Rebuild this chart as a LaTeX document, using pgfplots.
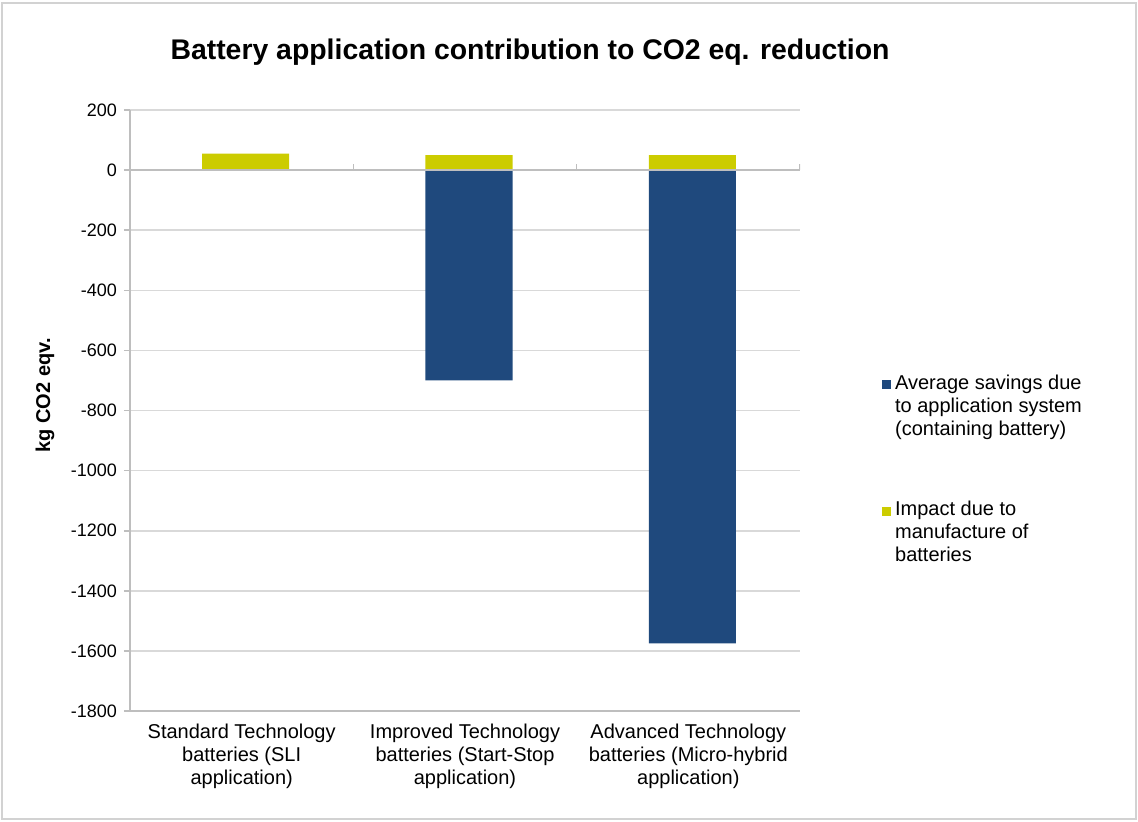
\documentclass[border=0pt]{standalone}
\usepackage{pgfplots}
\pgfplotsset{compat=1.18}
\usepackage{fontspec}
\setmainfont{Liberation Sans}
\definecolor{barblue}{RGB}{31,73,125}
\definecolor{baryellow}{RGB}{204,204,0}
\definecolor{gridgray}{RGB}{217,217,217}
\definecolor{axisgray}{RGB}{190,190,190}
\begin{document}
\begin{tikzpicture}
\useasboundingbox (-65pt,-55pt) rectangle (504pt,355.5pt);
\draw[gray!35, line width=1.2pt] (-64pt,-54pt) rectangle (503pt,354pt);
\node[font=\fontsize{14.2}{16}\selectfont\bfseries] at (200pt,329.5pt) {Battery application contribution to CO2 eq. reduction};
\begin{axis}[
  at={(0,0)}, anchor=south west,
  scale only axis, width=335pt, height=300.5pt,
  xmin=-0.5, xmax=2.5, ymin=-1800, ymax=200,
  ytick={-1800,-1600,...,200},
  xtick={0,1,2},
  xticklabels={{Standard Technology\\batteries (SLI\\application)},
               {Improved Technology\\batteries (Start-Stop\\application)},
               {Advanced Technology\\batteries (Micro-hybrid\\application)}},
  xticklabel style={align=center, font=\fontsize{10}{11.5}\selectfont},
  yticklabel style={font=\fontsize{9}{10}\selectfont},
  /pgf/number format/assume math mode=true,
  /pgf/number format/1000 sep={},
  ymajorgrids, grid style={gridgray, line width=0.8pt},
  axis y line*=left, axis x line*=bottom,
  axis line style={axisgray, line width=0.8pt, -},
  xtick style={draw=none},
  ytick style={axisgray, line width=0.8pt},
  ytick align=outside, major tick length=3pt,
  ylabel={kg CO2 eqv.},
  ylabel style={font=\fontsize{10}{12}\selectfont\bfseries, at={(axis description cs:-0.127,0.525)}, anchor=center},
  ybar, bar width=0.39, bar shift=2pt,
  legend style={at={(axis description cs:1.122,0.567)}, anchor=north west, draw=none, inner sep=0pt,
    font=\fontsize{10}{11.5}\selectfont, row sep=50.5pt, cells={anchor=base west}},
  legend image code/.code={\fill[#1] (0pt,0pt) rectangle (4.5pt,4.5pt);},
]
\addplot[fill=barblue, draw=none] coordinates {(0,0) (1,-700) (2,-1575)};
\addlegendentry{\parbox[t]{110pt}{\raggedright Average savings due\\to application system\\(containing battery)}}
\addplot[fill=baryellow, draw=none] coordinates {(0,55) (1,50) (2,50)};
\addlegendentry{\parbox[t]{110pt}{\raggedright Impact due to\\manufacture of\\batteries}}
\draw[axisgray, line width=0.8pt] (axis cs:-0.5,0) -- (axis cs:2.5,0);
\draw[axisgray, line width=0.8pt] (axis cs:0.5,0) -- ([yshift=3pt]axis cs:0.5,0);
\draw[axisgray, line width=0.8pt] (axis cs:1.5,0) -- ([yshift=3pt]axis cs:1.5,0);
\draw[axisgray, line width=0.8pt] (axis cs:2.5,0) -- ([yshift=3pt]axis cs:2.5,0);
\end{axis}
\end{tikzpicture}
\end{document}
